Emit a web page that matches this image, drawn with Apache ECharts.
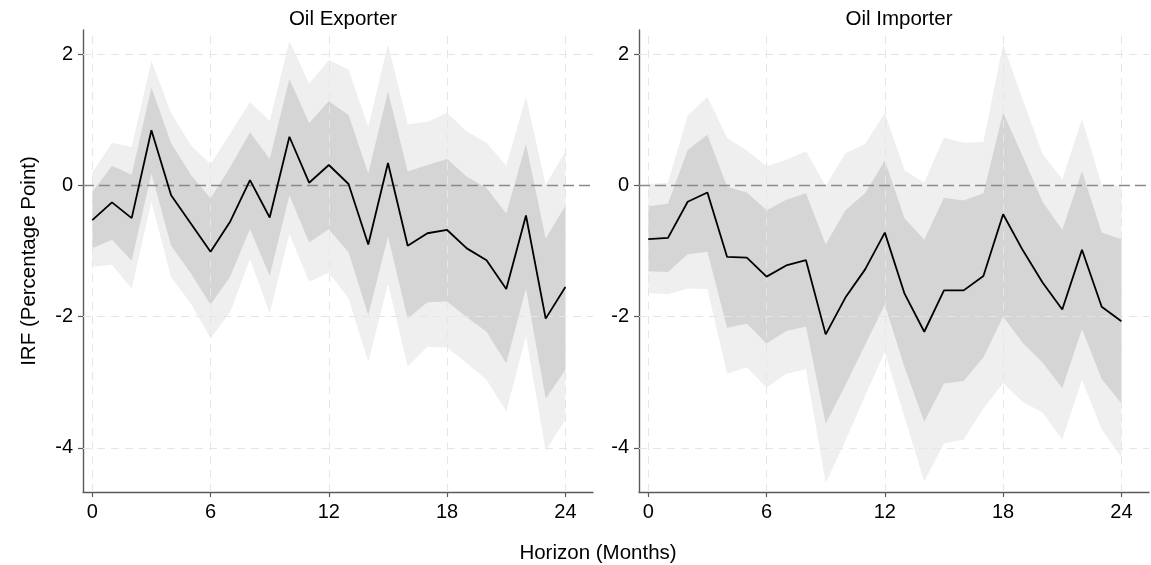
<!DOCTYPE html>
<html>
<head>
<meta charset="utf-8">
<script src="https://cdn.jsdelivr.net/npm/echarts@6/dist/echarts.min.js"></script>
<style>
  html, body { margin: 0; padding: 0; background: #fff; }
  #chart { width: 1151px; height: 565px; }
</style>
</head>
<body>
<div id="chart"></div>
<script>
// Horizon in months
const horizon = [0,1,2,3,4,5,6,7,8,9,10,11,12,13,14,15,16,17,18,19,20,21,22,23,24];
const xTicks = [0, 6, 12, 18, 24];
const yTicks = [-4, -2, 0, 2];
const panelTitles = ['Oil Exporter', 'Oil Importer'];

// Oil exporters: point estimate with inner and outer confidence bands
const exporterIrf = [-0.53,-0.26,-0.50,0.84,-0.15,-0.58,-1.01,-0.55,0.08,-0.49,0.74,0.04,0.31,0.02,-0.90,0.34,-0.92,-0.73,-0.68,-0.96,-1.14,-1.58,-0.46,-2.03,-1.55];
const exporterInnerHi = [-0.10,0.30,0.16,1.49,0.64,0.16,-0.20,0.28,0.81,0.40,1.62,0.95,1.28,1.07,0.18,1.43,0.21,0.31,0.40,0.13,-0.04,-0.43,0.63,-0.81,-0.31];
const exporterInnerLo = [-0.96,-0.83,-1.15,0.18,-0.92,-1.34,-1.82,-1.39,-0.66,-1.38,-0.15,-0.87,-0.67,-1.02,-1.98,-0.78,-2.03,-1.78,-1.77,-2.01,-2.23,-2.71,-1.57,-3.25,-2.81];
const exporterOuterHi = [0.19,0.65,0.58,1.90,1.10,0.61,0.32,0.79,1.27,0.98,2.20,1.55,1.91,1.76,0.89,2.15,0.93,0.97,1.10,0.82,0.65,0.30,1.35,0.01,0.51];
const exporterOuterLo = [-1.24,-1.21,-1.57,-0.25,-1.40,-1.80,-2.33,-1.93,-1.12,-1.95,-0.74,-1.47,-1.33,-1.72,-2.69,-1.50,-2.76,-2.46,-2.47,-2.71,-2.96,-3.44,-2.30,-4.04,-3.57];

// Oil importers
const importerIrf = [-0.82,-0.80,-0.25,-0.11,-1.09,-1.10,-1.39,-1.22,-1.14,-2.27,-1.71,-1.28,-0.72,-1.65,-2.23,-1.60,-1.60,-1.38,-0.44,-0.99,-1.48,-1.89,-0.98,-1.85,-2.07];
const importerInnerHi = [-0.32,-0.28,0.54,0.77,-0.02,-0.11,-0.38,-0.22,-0.12,-0.90,-0.38,-0.12,0.38,-0.50,-0.83,-0.19,-0.23,-0.12,1.11,0.44,-0.25,-0.68,0.22,-0.72,-0.82];
const importerInnerLo = [-1.31,-1.32,-1.05,-1.01,-2.17,-2.11,-2.41,-2.22,-2.15,-3.63,-3.04,-2.43,-1.82,-2.77,-3.60,-3.02,-2.98,-2.62,-2.00,-2.40,-2.70,-3.09,-2.19,-2.95,-3.32];
const importerOuterHi = [0.02,0.04,1.06,1.35,0.72,0.53,0.29,0.39,0.52,-0.01,0.49,0.63,1.10,0.23,0.04,0.73,0.65,0.66,2.15,1.30,0.48,0.09,1.01,0.01,-0.01];
const importerOuterLo = [-1.64,-1.66,-1.57,-1.58,-2.87,-2.77,-3.08,-2.87,-2.80,-4.53,-3.89,-3.20,-2.54,-3.53,-4.51,-3.93,-3.87,-3.40,-3.01,-3.30,-3.46,-3.87,-2.96,-3.72,-4.14];

const FONT = '"Liberation Sans", Arial, Helvetica, sans-serif';
const OUTER_BAND = '#efefef';
const INNER_BAND = '#d5d5d5';
const AXIS_COLOR = '#5a5a5a';

const pts = ys => horizon.map((h, i) => [h, ys[i]]);

// A confidence band as one filled polygon: upper bound left to right, lower bound back.
function bandSeries(idx, lo, hi, color, z) {
  return {
    type: 'custom', xAxisIndex: idx, yAxisIndex: idx, silent: true, z: z,
    data: horizon.map((h, i) => [h, lo[i], hi[i]]),
    encode: { x: 0, y: [1, 2] },
    renderItem: function (params, api) {
      if (params.dataIndex !== 0) return null;
      const upper = horizon.map((h, i) => api.coord([h, hi[i]]));
      const lower = horizon.map((h, i) => api.coord([h, lo[i]])).reverse();
      return {
        type: 'polygon',
        shape: { points: upper.concat(lower) },
        style: { fill: color, stroke: null }
      };
    }
  };
}

function gridLines(idx) {
  const lines = [];
  xTicks.forEach(v => lines.push({ xAxis: v, lineStyle: { color: '#e6e6e6', width: 1, type: [8, 6] } }));
  yTicks.filter(v => v !== 0).forEach(v => lines.push({ yAxis: v, lineStyle: { color: '#e6e6e6', width: 1, type: [8, 6] } }));
  lines.push({ yAxis: 0, lineStyle: { color: '#8a8a8a', width: 1.3, type: [11, 5] } });
  return {
    type: 'line', xAxisIndex: idx, yAxisIndex: idx, data: [], z: 3, silent: true,
    markLine: { silent: true, symbol: ['none', 'none'], label: { show: false }, animation: false, data: lines }
  };
}

function panelSeries(idx, irf, innerLo, innerHi, outerLo, outerHi) {
  return [
    bandSeries(idx, outerLo, outerHi, OUTER_BAND, 1),
    bandSeries(idx, innerLo, innerHi, INNER_BAND, 2),
    gridLines(idx),
    {
      type: 'line', xAxisIndex: idx, yAxisIndex: idx, data: pts(irf), symbol: 'none',
      lineStyle: { color: '#000', width: 1.8 }, silent: true, z: 5
    }
  ];
}

const grids = [
  { left: 83, top: 30, width: 510, height: 462 },
  { left: 639, top: 30, width: 510, height: 462 }
];

function xAxisFor(idx) {
  return {
    type: 'value', gridIndex: idx, min: -0.47, max: 25.4,
    axisLine: { show: true, onZero: false, lineStyle: { color: AXIS_COLOR, width: 1.4 } },
    axisTick: { show: true, length: 5, customValues: xTicks, lineStyle: { color: AXIS_COLOR, width: 1.2 } },
    axisLabel: { customValues: xTicks, margin: 10, fontSize: 20, color: '#000', fontFamily: FONT },
    splitLine: { show: false }
  };
}

function yAxisFor(idx) {
  const ax = {
    type: 'value', gridIndex: idx, min: -4.671, max: 2.366,
    axisLine: { show: true, onZero: false, lineStyle: { color: AXIS_COLOR, width: 1.4 } },
    axisTick: { show: true, length: 5, customValues: yTicks, lineStyle: { color: AXIS_COLOR, width: 1.2 } },
    axisLabel: { customValues: yTicks, margin: 10, fontSize: 20, color: '#000', fontFamily: FONT },
    splitLine: { show: false }
  };
  if (idx === 0) {
    ax.name = 'IRF (Percentage Point)';
    ax.nameLocation = 'middle';
    ax.nameGap = 43;
    ax.nameTextStyle = { fontSize: 20.5, color: '#000', fontFamily: FONT };
  }
  return ax;
}

const titleStyle = { fontSize: 20.5, fontWeight: 'normal', color: '#000', fontFamily: FONT };

const chart = echarts.init(document.getElementById('chart'), null, { renderer: 'canvas' });
chart.setOption({
  animation: false,
  backgroundColor: '#fff',
  title: [
    { text: panelTitles[0], left: 338, top: 4, textAlign: 'center', textStyle: titleStyle },
    { text: panelTitles[1], left: 894, top: 4, textAlign: 'center', textStyle: titleStyle },
    { text: 'Horizon (Months)', left: 593, top: 538, textAlign: 'center', textStyle: titleStyle }
  ],
  grid: grids,
  xAxis: [xAxisFor(0), xAxisFor(1)],
  yAxis: [yAxisFor(0), yAxisFor(1)],
  series: [
    ...panelSeries(0, exporterIrf, exporterInnerLo, exporterInnerHi, exporterOuterLo, exporterOuterHi),
    ...panelSeries(1, importerIrf, importerInnerLo, importerInnerHi, importerOuterLo, importerOuterHi)
  ]
});
</script>
</body>
</html>
